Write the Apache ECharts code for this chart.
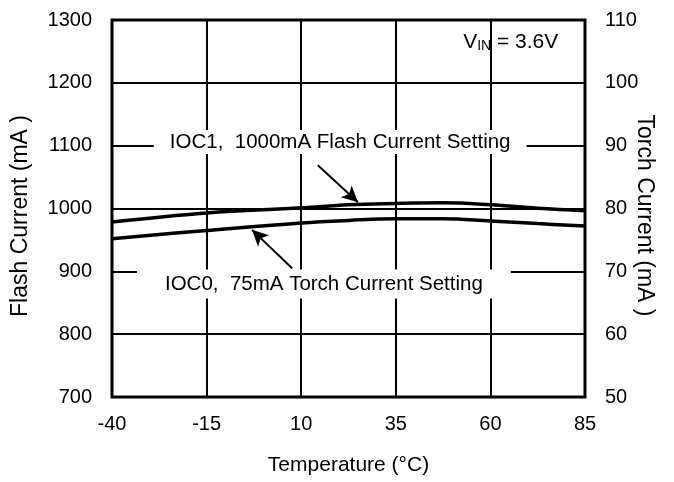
<!DOCTYPE html>
<html>
<head>
<meta charset="utf-8">
<script src="https://cdn.jsdelivr.net/npm/echarts@6/dist/echarts.min.js"></script>
<style>html,body{margin:0;padding:0;background:#fff;}#c{width:674px;height:482px;}</style>
</head>
<body>
<div id="c"></div>
<script>
// Temperature (°C)
var temps = [-40, -15, 10, 22.5, 35, 47.5, 60, 72.5, 85];
// IOC1, 1000mA flash current (left axis, mA)
var flashCurrent = [978.5, 993, 1001, 1006, 1008, 1009, 1006, 1000.5, 996.5];
// IOC0, 75mA torch current (right axis, mA)
var torchCurrent = [75.2, 76.5, 77.7, 78.1, 78.35, 78.35, 78.0, 77.6, 77.2];
var xTicks = [-40, -15, 10, 35, 60, 85];
var flashTicks = [700, 800, 900, 1000, 1100, 1200, 1300];
var torchTicks = [50, 60, 70, 80, 90, 100, 110];

var FONT = 'Liberation Sans, Arial, sans-serif';
var chart = echarts.init(document.getElementById('c'));

function pairs(xs, ys) { return xs.map(function (x, i) { return [x, ys[i]]; }); }
function plain(v) { return String(v); }

chart.setOption({
  animation: false,
  backgroundColor: '#fff',
  grid: { left: 112, right: 89, top: 20, bottom: 85, show: true, borderColor: '#000', borderWidth: 3,
    backgroundColor: 'transparent', containLabel: false, outerBoundsMode: 'none' },
  xAxis: {
    type: 'value', min: xTicks[0], max: xTicks[xTicks.length - 1], interval: 25,
    name: 'Temperature (°C)', nameLocation: 'middle', nameGap: 58, nameMoveOverlap: false,
    nameTextStyle: { fontFamily: FONT, fontSize: 21, color: '#000' },
    axisLine: { show: false }, axisTick: { show: false },
    axisLabel: { fontFamily: FONT, fontSize: 20, color: '#000', margin: 17, formatter: plain },
    splitLine: { show: true, lineStyle: { color: '#000', width: 2 } }
  },
  yAxis: [{
    type: 'value', min: flashTicks[0], max: flashTicks[flashTicks.length - 1], interval: 100,
    name: 'Flash Current (mA )', nameLocation: 'middle', nameGap: 80, nameMoveOverlap: false,
    nameTextStyle: { fontFamily: FONT, fontSize: 23, color: '#000', padding: [0, 15, 0, 0] },
    axisLine: { show: false }, axisTick: { show: false },
    axisLabel: { fontFamily: FONT, fontSize: 20, color: '#000', margin: 20, formatter: plain },
    splitLine: { show: true, lineStyle: { color: '#000', width: 2 } }
  }, {
    type: 'value', min: torchTicks[0], max: torchTicks[torchTicks.length - 1], interval: 10,
    position: 'right',
    name: 'Torch Current (mA )', nameLocation: 'middle', nameGap: 48, nameRotate: -90, nameMoveOverlap: false,
    nameTextStyle: { fontFamily: FONT, fontSize: 23, color: '#000', padding: [0, 0, 0, 14] },
    axisLine: { show: false }, axisTick: { show: false },
    axisLabel: { fontFamily: FONT, fontSize: 20, color: '#000', margin: 20, formatter: plain },
    splitLine: { show: false }
  }],
  series: [{
    type: 'line', name: 'IOC1', data: pairs(temps, flashCurrent), smooth: 0.4,
    symbol: 'none', lineStyle: { color: '#000', width: 3.5 }, z: 5,
    markPoint: {
      symbol: 'rect', symbolSize: 0,
      data: [{
        coord: [20.3, 1106], value: 0,
        label: { show: true, formatter: 'IOC1,  1000mA Flash Current Setting', fontFamily: FONT, fontSize: 20.5, color: '#000',
          backgroundColor: '#fff', padding: [2, 16, 1, 16], position: 'inside' }
      }, {
        coord: [16.0, 880], value: 0,
        label: { show: true, formatter: 'IOC0,  75mA Torch Current Setting', fontFamily: FONT, fontSize: 20.5, color: '#000',
          backgroundColor: '#fff', padding: [4, 28, 4, 28], position: 'inside' }
      }, {
        coord: [52.8, 1265], value: 0,
        label: { show: true, position: 'right', distance: 0,
          formatter: 'V{s|IN} = 3.6V', fontFamily: FONT, fontSize: 21, color: '#000',
          rich: { s: { fontFamily: FONT, fontSize: 14, color: '#000', verticalAlign: 'bottom', padding: [9, 0, 0, 0] } } }
      }]
    },
    markLine: {
      silent: true, symbol: ['none', 'arrow'], symbolSize: [12, 16],
      lineStyle: { color: '#000', width: 2, type: 'solid' }, label: { show: false },
      data: [
        [{ coord: [14.4, 1069] }, { coord: [25.0, 1010] }],
        [{ coord: [7.6, 905] }, { coord: [-3.0, 966] }]
      ]
    }
  }, {
    type: 'line', name: 'IOC0', yAxisIndex: 1, data: pairs(temps, torchCurrent), smooth: 0.4,
    symbol: 'none', lineStyle: { color: '#000', width: 3.5 }, z: 5
  }]
});
</script>
</body>
</html>
